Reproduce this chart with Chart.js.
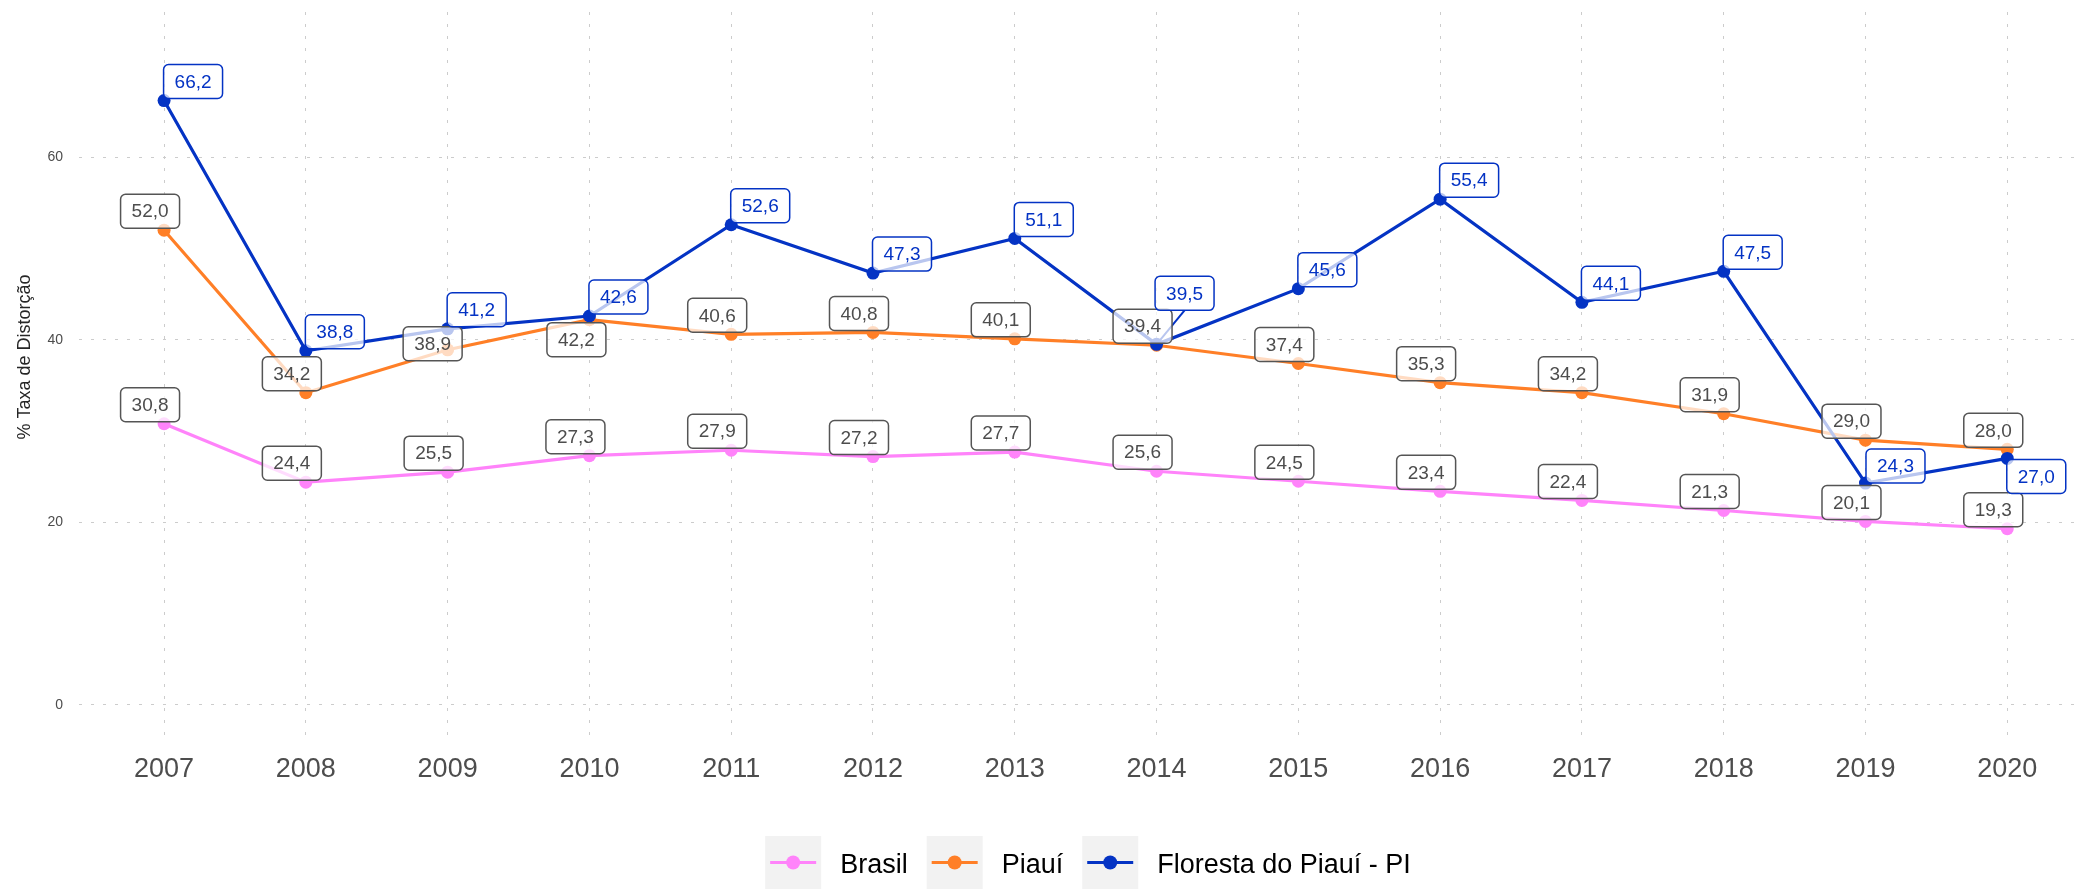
<!DOCTYPE html>
<html>
<head>
<meta charset="utf-8">
<script src="https://cdn.jsdelivr.net/npm/chart.js@4.4.1/dist/chart.umd.min.js"></script>
<style>
  html, body { margin: 0; padding: 0; background: #fff; }
  #wrap { width: 2080px; height: 889px; }
</style>
</head>
<body>
<div id="wrap"><canvas id="chart" width="2080" height="889"></canvas></div>
<script>
const years = [2007, 2008, 2009, 2010, 2011, 2012, 2013, 2014, 2015, 2016, 2017, 2018, 2019, 2020];
const brasil = [30.8, 24.4, 25.5, 27.3, 27.9, 27.2, 27.7, 25.6, 24.5, 23.4, 22.4, 21.3, 20.1, 19.3];
const piaui = [52.0, 34.2, 38.9, 42.2, 40.6, 40.8, 40.1, 39.4, 37.4, 35.3, 34.2, 31.9, 29.0, 28.0];
const floresta = [66.2, 38.8, 41.2, 42.6, 52.6, 47.3, 51.1, 39.5, 45.6, 55.4, 44.1, 47.5, 24.3, 27.0];
const seriesNames = ['Brasil', 'Piauí', 'Floresta do Piauí - PI'];
const yTicks = [0, 20, 40, 60];

const FONT = '"Liberation Sans", Arial, sans-serif';
const colors = ['#ff83fa', '#ff7f27', '#0433c4'];
const GRAY_TXT = '#4d4d4d';

Chart.defaults.font.family = FONT;

function fmt(v) {
  return v.toFixed(1).replace('.', ',');
}

// where each value box sits relative to its point (box centre, px)
const labelNudge = {
  base: [[-14, -19], [-14, -19], [29, -19]],
  special: {
    '1-2': [-15, -6],
    '1-3': [-13, 20],
    '2-7': [28, -51],
    '2-12': [30, -17],
    '2-13': [29, 18]
  }
};
const leaderLines = ['2-7'];

const valueLabels = {
  id: 'valueLabels',
  afterDatasetsDraw(chart) {
    const ctx = chart.ctx;
    ctx.save();
    ctx.font = '19px ' + FONT;
    const boxes = [];
    chart.data.datasets.forEach((ds, i) => {
      const meta = chart.getDatasetMeta(i);
      meta.data.forEach((pt, j) => {
        const key = i + '-' + j;
        const [dx, dy] = labelNudge.special[key] || labelNudge.base[i];
        const text = fmt(ds.data[j].y);
        const w = ctx.measureText(text).width + 22;
        const h = 34;
        boxes.push({
          key, text, w, h,
          px: pt.x, py: pt.y,
          cx: pt.x + dx, cy: pt.y + dy,
          stroke: i === 2 ? colors[2] : '#555555',
          color: i === 2 ? colors[2] : GRAY_TXT
        });
      });
    });

    // leader segments go underneath every box
    boxes.filter(b => leaderLines.includes(b.key)).forEach(b => {
      ctx.beginPath();
      ctx.strokeStyle = b.stroke;
      ctx.lineWidth = 2;
      ctx.moveTo(b.px, b.py);
      ctx.lineTo(b.cx, b.cy + b.h / 2);
      ctx.stroke();
    });

    boxes.forEach(b => {
      ctx.beginPath();
      ctx.roundRect(b.cx - b.w / 2, b.cy - b.h / 2, b.w, b.h, 5);
      ctx.fillStyle = 'rgba(255,255,255,0.72)';
      ctx.fill();
      ctx.lineWidth = 1.5;
      ctx.strokeStyle = b.stroke;
      ctx.stroke();
      ctx.fillStyle = b.color;
      ctx.textAlign = 'center';
      ctx.textBaseline = 'middle';
      ctx.fillText(b.text, b.cx, b.cy + 1);
    });
    ctx.restore();
  }
};

const extras = {
  id: 'extras',
  afterDraw(chart) {
    const ctx = chart.ctx;
    ctx.save();

    // y axis title
    ctx.translate(25, 357);
    ctx.rotate(-Math.PI / 2);
    ctx.font = '18px ' + FONT;
    ctx.fillStyle = '#262626';
    ctx.textAlign = 'center';
    ctx.textBaseline = 'middle';
    ctx.fillText('% Taxa de Distorção', 0, 0);
    ctx.setTransform(1, 0, 0, 1, 0, 0);

    // legend
    ctx.font = '27px ' + FONT;
    const keyW = 56, keyH = 53, gapText = 19, gapItem = 19;
    const widths = seriesNames.map(n => ctx.measureText(n).width);
    const total = widths.reduce((a, w) => a + keyW + gapText + w, 0) + gapItem * (seriesNames.length - 1);
    let x = 1088 - total / 2;
    const top = 836;
    const cy = top + keyH / 2;
    seriesNames.forEach((name, i) => {
      ctx.fillStyle = '#f2f2f2';
      ctx.fillRect(x, top, keyW, keyH);
      ctx.beginPath();
      ctx.strokeStyle = colors[i];
      ctx.lineWidth = 3;
      ctx.moveTo(x + 5, cy);
      ctx.lineTo(x + keyW - 5, cy);
      ctx.stroke();
      ctx.beginPath();
      ctx.fillStyle = colors[i];
      ctx.arc(x + keyW / 2, cy, 7, 0, Math.PI * 2);
      ctx.fill();
      ctx.fillStyle = '#000';
      ctx.textAlign = 'left';
      ctx.textBaseline = 'middle';
      ctx.fillText(name, x + keyW + gapText, cy + 3);
      x += keyW + gapText + widths[i] + gapItem;
    });
    ctx.restore();
  }
};

const seriesValues = [brasil, piaui, floresta];
const datasets = seriesValues.map((vals, i) => ({
  label: seriesNames[i],
  data: vals.map((v, j) => ({ x: years[j], y: v })),
  borderColor: colors[i],
  backgroundColor: colors[i],
  borderWidth: 3.2,
  pointRadius: 6.5,
  pointBorderWidth: 0,
  pointBackgroundColor: colors[i],
  tension: 0,
  order: 3 - i
}));

const gridDash = [3, 9];

new Chart(document.getElementById('chart'), {
  type: 'line',
  data: { datasets },
  options: {
    responsive: false,
    animation: false,
    devicePixelRatio: 1,
    layout: {
      autoPadding: false,
      padding: { top: 12, right: 0, bottom: 91, left: 0 }
    },
    plugins: {
      legend: { display: false },
      tooltip: { enabled: false }
    },
    scales: {
      x: {
        type: 'linear',
        min: 2006.4,
        max: 2020.513,
        afterBuildTicks: s => { s.ticks = years.map(v => ({ value: v })); },
        afterFit: s => {
          s.height = 60;
          s.paddingLeft = 0;
          s.paddingRight = 0;
        },
        ticks: {
          callback: v => String(v),
          font: { size: 27 },
          color: GRAY_TXT,
          padding: 15,
          maxRotation: 0,
          autoSkip: false
        },
        grid: { color: '#cccccc', lineWidth: 1, drawTicks: false },
        border: { display: false, dash: gridDash }
      },
      y: {
        min: -3.62,
        max: 75.9,
        afterBuildTicks: s => { s.ticks = yTicks.map(v => ({ value: v })); },
        afterFit: s => {
          s.width = 79;
          s.paddingTop = 0;
          s.paddingBottom = 0;
        },
        ticks: {
          font: { size: 14 },
          color: GRAY_TXT,
          padding: 16
        },
        grid: { color: '#cccccc', lineWidth: 1, drawTicks: false },
        border: { display: false, dash: gridDash }
      }
    }
  },
  plugins: [valueLabels, extras]
});
</script>
</body>
</html>
